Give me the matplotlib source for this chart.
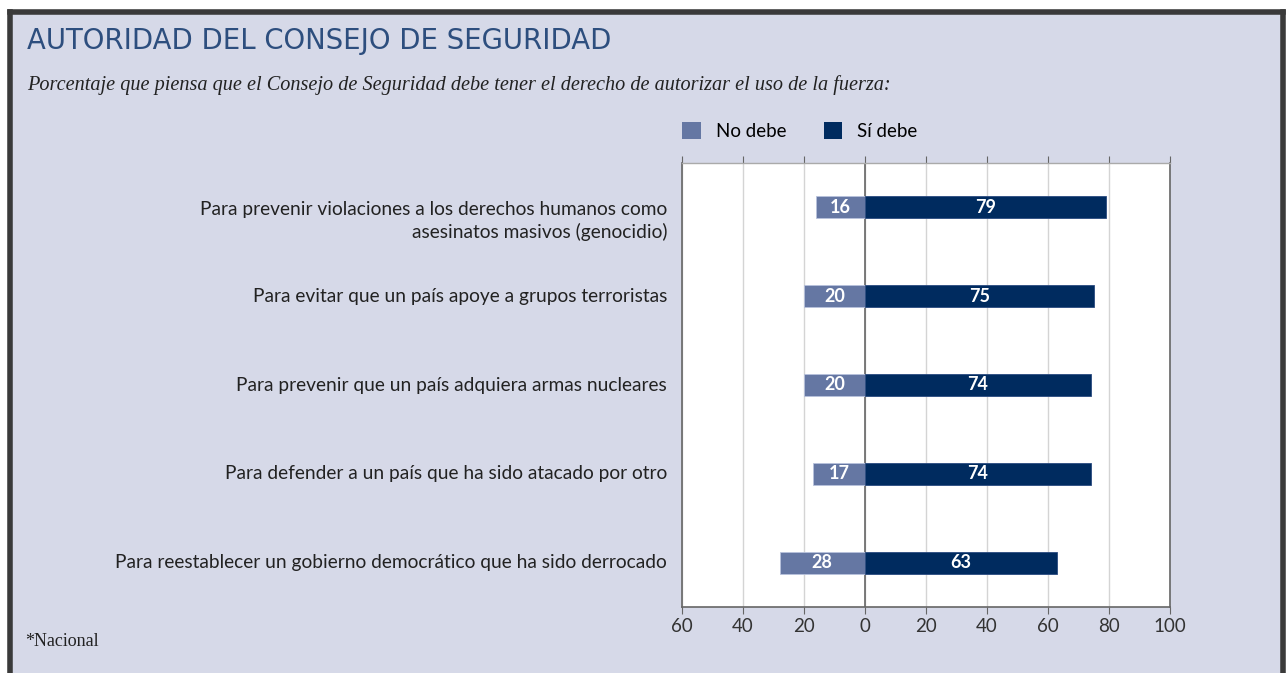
import matplotlib
matplotlib.use("Agg")
import matplotlib.pyplot as plt
from matplotlib.patches import Rectangle
import matplotlib.transforms as mtransforms
import numpy as np

categories = [
    "Para prevenir violaciones a los derechos humanos como\nasesinatos masivos (genocidio)",
    "Para evitar que un país apoye a grupos terroristas",
    "Para prevenir que un país adquiera armas nucleares",
    "Para defender a un país que ha sido atacado por otro",
    "Para reestablecer un gobierno democrático que ha sido derrocado",
]
no_debe = [16, 20, 20, 17, 28]
si_debe = [79, 75, 74, 74, 63]
tick_values = [-60, -40, -20, 0, 20, 40, 60, 80, 100]
tick_labels = ["60", "40", "20", "0", "20", "40", "60", "80", "100"]
series_names = ["No debe", "Sí debe"]

BG = "#d6d9e8"
C_NO = "#6577a3"
C_SI = "#002b5f"
SANS = "Lato"

W, H = 1288, 673
fig = plt.figure(figsize=(W / 100, H / 100), dpi=100)
fig.patch.set_facecolor("white")

# background panel with dark border (left, top, right)
fig.add_artist(Rectangle((9.5 / W, 0), (1283 - 9.5) / W, (H - 12) / H,
                         transform=fig.transFigure, facecolor=BG,
                         edgecolor="none", zorder=0))
fig.add_artist(plt.Line2D([9.5 / W, 9.5 / W], [0, (H - 12) / H], color="#3a3a3a",
                          lw=4, transform=fig.transFigure, zorder=1))
fig.add_artist(plt.Line2D([9.5 / W, 1283 / W], [(H - 12) / H, (H - 12) / H], color="#3a3a3a",
                          lw=4, transform=fig.transFigure, zorder=1))
fig.add_artist(plt.Line2D([1283 / W, 1283 / W], [0, (H - 12) / H], color="#3a3a3a",
                          lw=4, transform=fig.transFigure, zorder=1))

# title, subtitle, footnote
fig.text(27 / W, 1 - 41 / H, "AUTORIDAD DEL CONSEJO DE SEGURIDAD", family="DejaVu Sans",
         fontsize=19.8, color="#2d4e7e", va="center", ha="left")
fig.text(27 / W, 1 - 85 / H,
         "Porcentaje que piensa que el Consejo de Seguridad debe tener el derecho de autorizar el uso de la fuerza:",
         family="Liberation Serif", style="italic", fontsize=14.6, color="#222222",
         va="center", ha="left")
fig.text(25 / W, 1 - 642 / H, "*Nacional", family="Liberation Serif", fontsize=13,
         color="#222222", va="center", ha="left")

ax = fig.add_axes([682 / W, 1 - 607 / H, (1170 - 682) / W, (607 - 163) / H])
ax.set_facecolor("white")
y = np.arange(len(categories))
neg = [-v for v in no_debe]
b1 = ax.barh(y, neg, height=0.25, color=C_NO, edgecolor="#b8c2dc", lw=0.6,
             label=series_names[0], zorder=3)
b2 = ax.barh(y, si_debe, height=0.25, color=C_SI, edgecolor="#2a4a80", lw=0.6,
             label=series_names[1], zorder=3)
for yi, n, s in zip(y, no_debe, si_debe):
    ax.text(-n / 2, yi, str(n), color="white", fontweight="bold", family=SANS,
            fontsize=13, ha="center", va="center", zorder=4)
    ax.text(s / 2, yi, str(s), color="white", fontweight="bold", family=SANS,
            fontsize=13, ha="center", va="center", zorder=4)

ax.set_xlim(-60, 100)
ax.set_ylim(len(categories) - 0.5, -0.5)
ax.set_xticks(tick_values)
ax.set_xticklabels(tick_labels, family=SANS, fontsize=13.5, color="#333333")
ax.tick_params(axis="x", length=5, color="#666666", pad=3)
ax.set_yticks([])

# category labels (first line aligned with the bar)
trans = mtransforms.blended_transform_factory(ax.transAxes, ax.transData)
for yi, cat in zip(y, categories):
    nlines = cat.count("\n") + 1
    if nlines == 1:
        ax.annotate(cat, xy=(0, yi), xycoords=trans, xytext=(-15, 0),
                    textcoords="offset pixels", ha="right", va="center",
                    family=SANS, fontsize=13.8, color="#222222",
                    annotation_clip=False)
    else:
        ax.annotate(cat, xy=(0, yi), xycoords=trans, xytext=(-15, 6),
                    textcoords="offset pixels", ha="right", va="top",
                    family=SANS, fontsize=13.8, color="#222222",
                    multialignment="right", linespacing=1.3,
                    annotation_clip=False)

ax.grid(axis="x", color="#d4d4d4", lw=1, zorder=1)
ax.axvline(0, color="#666666", lw=1.2, zorder=2)
for side in ["left", "right", "bottom"]:
    ax.spines[side].set_color("#666666")
    ax.spines[side].set_linewidth(1.2)
ax.spines["top"].set_color("#aaaaaa")
ax.spines["top"].set_linewidth(1)
ax.tick_params(axis="x", top=True, labeltop=False, direction="out")

leg = fig.legend(handles=[b1, b2], labels=series_names, loc="center left",
                 bbox_to_anchor=(665 / W, 1 - 131 / H), ncol=2, frameon=False,
                 prop={"family": SANS, "size": 13.5}, handlelength=1.0,
                 handleheight=1.0, handletextpad=0.8, columnspacing=2.0)
for h in leg.legend_handles:
    h.set_edgecolor("none")

fig.savefig("out.png", dpi=100, facecolor=fig.get_facecolor())
